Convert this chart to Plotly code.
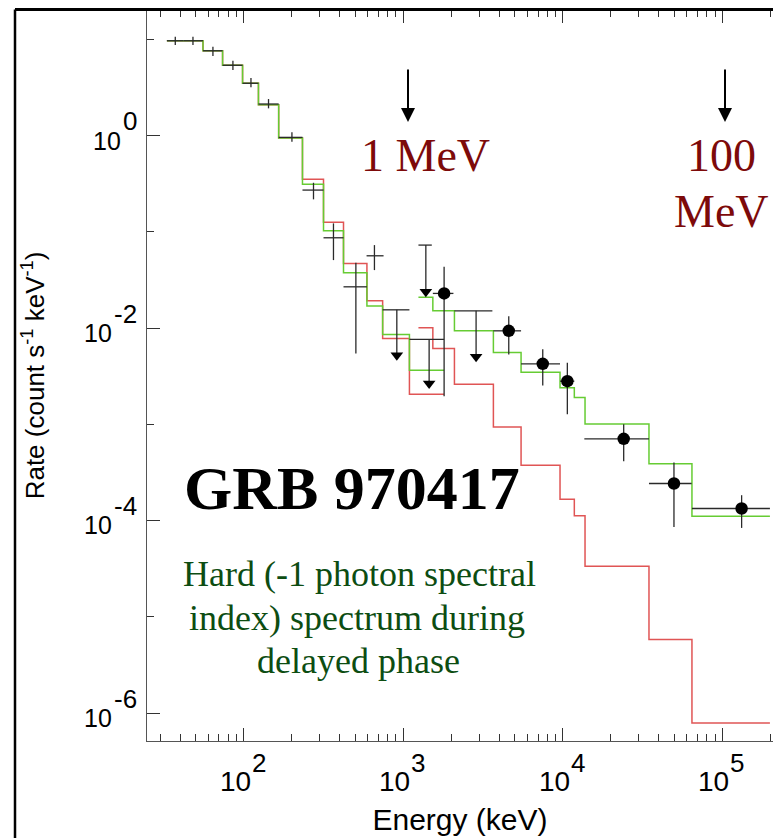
import math
import plotly.graph_objects as go

# ---------------- data ----------------
# Model histograms, low-energy instrument (bin edges in keV)
edges_lo = [33.1, 42.1, 55.7, 73.9, 98.6, 124, 166, 234, 317, 423, 593, 744, 1095, 1806]
green_lo = [9.72, 9.72, 7.65, 5.40, 3.51, 2.10, 0.946, 0.3125, 0.1028, 0.03762, 0.01695, 0.00861, 0.003662]
red_lo = [9.72, 9.72, 7.65, 5.40, 3.51, 2.10, 0.946, 0.3521, 0.1258, 0.04712, 0.01924, 0.00782, 0.002062]
# Model histograms, high-energy instrument
edges_hi = [1247, 1535, 2096, 3677, 5482, 9618, 11820, 13795, 34706, 64514, 198700]
green_hi = [0.02102, 0.01515, 0.009428, 0.005595, 0.003490, 0.002397, 0.001905, 0.001012, 0.000389, 0.0001110]
red_hi = [0.01008, 0.006157, 0.002619, 0.000942, 0.0003766, 0.0001669, 0.0001124, 3.354e-5, 5.80e-6, 7.87e-7]

# Low-energy data points (crosses)
cross_E = [37.35, 48.2, 64.3, 85.8, 111.3, 143.4, 201, 274.4, 366, 505.7, 661]
cross_Elo = [33.1, 42.1, 55.7, 73.9, 98.6, 124, 166, 234, 317, 423, 590]
cross_Ehi = [42.1, 55.7, 73.9, 98.6, 124, 166, 234, 317, 423, 593, 754]
cross_R = [9.72, 9.72, 7.65, 5.40, 3.51, 2.137, 0.962, 0.2725, 0.0870, 0.02690, 0.05653]
cross_Rhi = [10.7, 10.7, 8.42, 6.03, 3.98, 2.408, 1.085, 0.3246, 0.1228, 0.04780, 0.07303]
cross_Rlo = [8.77, 8.77, 6.74, 4.82, 3.19, 1.927, 0.866, 0.2182, 0.0510, 0.005462, 0.04014]

# Upper limits
ul_E = [912.9, 1387.6, 1455, 2865]
ul_Elo = [744, 1247, 1095, 2096]
ul_Ehi = [1095, 1512, 1806, 3624]
ul_R = [0.01551, 0.07303, 0.007635, 0.01515]
ul_Rend = [0.005244, 0.02387, 0.002663, 0.005035]

# High-energy detections (filled circles)
c_E = [1806, 4590, 7495, 10688, 24095, 49767, 132100]
c_Elo = [1535, 3677, 5482, 9618, 13656, 34706, 64514]
c_Ehi = [2066, 5482, 9618, 11820, 34706, 64230, 198700]
c_R = [0.02297, 0.009384, 0.004258, 0.002813, 0.000707, 0.000243, 0.0001335]
c_Rhi = [0.04342, 0.01334, 0.006056, 0.004360, 0.001005, 0.000402, 0.0001836]
c_Rlo = [0.001965, 0.005332, 0.002538, 0.001277, 0.000414, 8.60e-5, 8.39e-5]

x_tickvals = [1e2, 1e3, 1e4, 1e5]
x_exps = ["2", "3", "4", "5"]
y_tickvals = [1, 1e-2, 1e-4, 1e-6]
y_exps = ["0", "-2", "-4", "-6"]

# ---------------- figure ----------------
W, H = 773, 838
L, R, T, B = 147, 0, 10, 97
PW, PH = W - L - R, H - T - B


def pxx(x):
    return (x - L) / PW


def pxy(y):
    return (T + PH - y) / PH


GREEN = "#66cc33"
RED = "#e05555"
DATA = "#2a2a2a"

fig = go.Figure()


def step(edges, vals, color):
    fig.add_trace(go.Scatter(x=edges, y=list(vals) + [vals[-1]], mode="lines",
                             line=dict(color=color, width=1.5, shape="hv"),
                             hoverinfo="skip", showlegend=False))


step(edges_lo, red_lo, RED)
step(edges_hi, red_hi, RED)
step(edges_lo, green_lo, GREEN)
step(edges_hi, green_hi, GREEN)

# crosses
fig.add_trace(go.Scatter(
    x=cross_E, y=cross_R, mode="markers", marker=dict(size=1, color=DATA, opacity=0),
    error_x=dict(type="data", symmetric=False,
                 array=[h - e for h, e in zip(cross_Ehi, cross_E)],
                 arrayminus=[e - l for e, l in zip(cross_E, cross_Elo)],
                 color=DATA, thickness=1.3, width=0),
    error_y=dict(type="data", symmetric=False,
                 array=[h - r for h, r in zip(cross_Rhi, cross_R)],
                 arrayminus=[r - l for r, l in zip(cross_R, cross_Rlo)],
                 color=DATA, thickness=1.3, width=0),
    showlegend=False, hoverinfo="skip"))

# upper limits: horizontal bars
fig.add_trace(go.Scatter(
    x=ul_E, y=ul_R, mode="markers", marker=dict(size=1, color=DATA, opacity=0),
    error_x=dict(type="data", symmetric=False,
                 array=[h - e for h, e in zip(ul_Ehi, ul_E)],
                 arrayminus=[e - l for e, l in zip(ul_E, ul_Elo)],
                 color=DATA, thickness=1.3, width=0),
    showlegend=False, hoverinfo="skip"))
# shafts
sx, sy = [], []
for e, r0, r1 in zip(ul_E, ul_R, ul_Rend):
    sx += [e, e, None]
    sy += [r0, r1, None]
fig.add_trace(go.Scatter(x=sx, y=sy, mode="lines", line=dict(color=DATA, width=1.3),
                         showlegend=False, hoverinfo="skip"))
fig.add_trace(go.Scatter(x=ul_E, y=ul_Rend, mode="markers",
                         marker=dict(symbol="triangle-down", size=11, color="black"),
                         showlegend=False, hoverinfo="skip"))

# circles
fig.add_trace(go.Scatter(
    x=c_E, y=c_R, mode="markers", marker=dict(size=12.5, color="black"),
    error_x=dict(type="data", symmetric=False,
                 array=[h - e for h, e in zip(c_Ehi, c_E)],
                 arrayminus=[e - l for e, l in zip(c_E, c_Elo)],
                 color=DATA, thickness=1.3, width=0),
    error_y=dict(type="data", symmetric=False,
                 array=[h - r for h, r in zip(c_Rhi, c_R)],
                 arrayminus=[r - l for r, l in zip(c_R, c_Rlo)],
                 color=DATA, thickness=1.3, width=0),
    showlegend=False, hoverinfo="skip"))

SANS = "Liberation Sans, Arial, sans-serif"
SERIF = "Liberation Serif, Times New Roman, serif"

fig.update_layout(
    width=W, height=H, margin=dict(l=L, r=R, t=T, b=B),
    paper_bgcolor="white", plot_bgcolor="white", showlegend=False,
    xaxis=dict(type="log", range=[1.3951, 5.3175], showgrid=False, zeroline=False,
               showline=True, linecolor="#555", linewidth=1, mirror="ticks",
               ticks="inside", ticklen=13, tickwidth=1, tickcolor="#333",
               tickmode="array", tickvals=x_tickvals, showticklabels=False,
               minor=dict(ticks="inside", ticklen=7, tickwidth=1, tickcolor="#333",
                          dtick="D1", showgrid=False),
               title=dict(text="Energy (keV)", font=dict(family=SANS, size=30, color="black"),
                          standoff=67)),
    yaxis=dict(type="log", range=[-6.291, 1.3071], showgrid=False, zeroline=False,
               showline=True, linecolor="#555", linewidth=1, mirror=False,
               ticks="inside", ticklen=13, tickwidth=1, tickcolor="#333",
               tickmode="array", tickvals=y_tickvals, showticklabels=False,
               minor=dict(ticks="inside", ticklen=7, tickwidth=1, tickcolor="#333",
                          tickvals=[10, 0.1, 1e-3, 1e-5], showgrid=False),
               title=dict(text="Rate (count s<sup>-1</sup> keV<sup>-1</sup>)",
                          font=dict(family=SANS, size=26, color="black"), standoff=93)),
)

# ---- power-of-ten tick labels with large exponents (as in the reference) ----
AW = {"-": 0.333}
BASE_X, EXP_X = 28, 26
for v, ex in zip(x_tickvals, x_exps):
    lx = math.log10(v)
    fig.add_annotation(xref="x", yref="paper", x=lx, y=pxy(781.5), xshift=7, text="10",
                       showarrow=False, xanchor="right", yanchor="middle", borderpad=0, borderwidth=0,
                       font=dict(family=SANS, size=BASE_X, color="black"))
    fig.add_annotation(xref="x", yref="paper", x=lx, y=pxy(763), xshift=8, text=ex,
                       showarrow=False, xanchor="left", yanchor="middle", borderpad=0, borderwidth=0,
                       font=dict(family=SANS, size=EXP_X, color="black"))

BASE_Y, EXP_Y = 25, 26
for v, ex in zip(y_tickvals, y_exps):
    ly = math.log10(v)
    ew = sum(AW.get(ch, 0.556) for ch in ex) * EXP_Y
    right = 136.5
    fig.add_annotation(xref="paper", yref="y", x=pxx(right), y=ly, yshift=14.5, text=ex,
                       showarrow=False, xanchor="right", yanchor="middle", borderpad=0, borderwidth=0,
                       font=dict(family=SANS, size=EXP_Y, color="black"))
    fig.add_annotation(xref="paper", yref="y", x=pxx(right - ew - 1.5), y=ly, yshift=-4.8, text="10",
                       showarrow=False, xanchor="right", yanchor="middle", borderpad=0, borderwidth=0,
                       font=dict(family=SANS, size=BASE_Y, color="black"))

# slide frame
fig.add_shape(type="line", xref="paper", yref="paper", x0=pxx(15), x1=1.0, y0=pxy(9.5), y1=pxy(9.5),
              line=dict(color="black", width=3))
fig.add_shape(type="line", xref="paper", yref="paper", x0=pxx(15), x1=pxx(15), y0=pxy(9.5), y1=pxy(H + 5),
              line=dict(color="black", width=2.5))

# arrows
for xa in (408, 725):
    fig.add_annotation(xref="paper", yref="paper", x=pxx(xa), y=pxy(122), ax=0, ay=-54,
                       text="", showarrow=True, arrowhead=2, arrowsize=1.4, arrowwidth=2,
                       arrowcolor="black", standoff=0)

DRED = "#7d0a0a"
DGREEN = "#0d4d12"
texts = [
    ("1 MeV", 425, 156, 46, DRED, False),
    ("100", 721, 156, 46, DRED, False),
    ("MeV", 721, 212, 46, DRED, False),
    ("GRB 970417", 352, 488, 62, "black", True),
    ("Hard (-1 photon spectral", 359, 574, 36, DGREEN, False),
    ("index) spectrum during", 357, 618, 36, DGREEN, False),
    ("delayed phase", 358, 661, 36, DGREEN, False),
]
for t, x, y, s, c, b in texts:
    fig.add_annotation(xref="paper", yref="paper", x=pxx(x), y=pxy(y), text=(f"<b>{t}</b>" if b else t),
                       showarrow=False, xanchor="center", yanchor="middle",
                       font=dict(family=SERIF, size=s, color=c))

fig.write_html("out.html")
